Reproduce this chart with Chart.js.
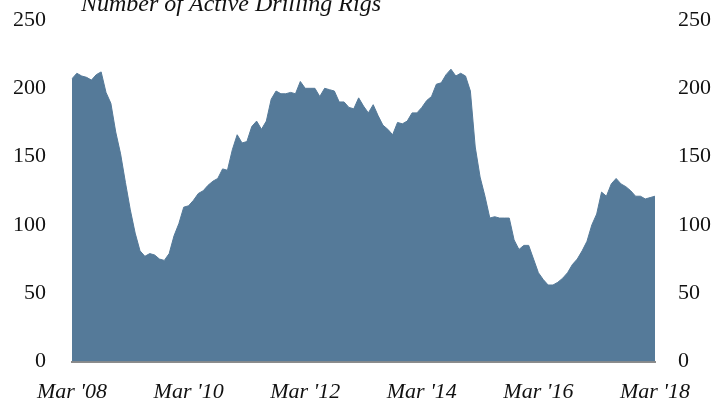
<!DOCTYPE html>
<html>
<head>
<meta charset="utf-8">
<script src="https://cdn.jsdelivr.net/npm/chart.js@4"></script>
<style>
    html, body { margin: 0; padding: 0; background: #fff; }
    #wrap { width: 718px; height: 407px; }
</style>
</head>
<body>
<div id="wrap"><canvas id="rigChart" width="718" height="407"></canvas></div>
<script>
// Monthly rig counts, Mar 2008 - Mar 2018
const rigCounts = [
    207, 211, 209, 208, 206, 210, 212, 197, 189, 168, 152, 131,
    111, 94, 81, 77, 79, 78, 75, 74, 79, 92, 101, 113,
    114, 118, 123, 125, 129, 132, 134, 141, 140, 155, 166, 160,
    161, 172, 176, 170, 176, 192, 198, 196, 196, 197, 196, 205,
    200, 200, 200, 194, 200, 199, 198, 190, 190, 186, 185, 193,
    187, 182, 188, 180, 173, 170, 166, 175, 174, 176, 182, 182,
    186, 191, 194, 203, 204, 210, 214, 209, 211, 209, 198, 157,
    135, 121, 105, 106, 105, 105, 105, 89, 82, 85, 85, 75,
    65, 60, 56, 56, 58, 61, 65, 71, 75, 81, 88, 100,
    108, 124, 121, 130, 134, 130, 128, 125, 121, 121, 119, 120,
    121
];
const xTickLabels = ["Mar '08", "Mar '10", "Mar '12", "Mar '14", "Mar '16", "Mar '18"];
const yTicks = [0, 50, 100, 150, 200, 250];
const chartTitle = 'Number of Active Drilling Rigs';

const monthNames = ['Jan', 'Feb', 'Mar', 'Apr', 'May', 'Jun', 'Jul', 'Aug', 'Sep', 'Oct', 'Nov', 'Dec'];
const labels = rigCounts.map((v, i) => {
    const m = (2 + i) % 12;
    const y = 2008 + Math.floor((2 + i) / 12);
    return monthNames[m] + ' ' + y;
});

const serif = '"Liberation Serif", "DejaVu Serif", serif';

const titlePlugin = {
    id: 'topTitle',
    afterDraw(chart) {
        const ctx = chart.ctx;
        ctx.save();
        ctx.font = 'italic 24px ' + serif;
        ctx.fillStyle = '#111';
        ctx.textAlign = 'center';
        ctx.textBaseline = 'alphabetic';
        ctx.fillText(chartTitle, 231, 10.5);
        ctx.restore();
    }
};

const yTickOpts = {
    font: { family: serif, size: 22 },
    color: '#111',
    stepSize: 50
};

// fixed widths, and no extra room for the overflowing top/bottom labels
function fitY(width) {
    return (s) => {
        s.width = width;
        s.paddingTop = 0;
        s.paddingBottom = 0;
    };
}

new Chart(document.getElementById('rigChart').getContext('2d'), {
    type: 'line',
    data: {
        labels: labels,
        datasets: [{
            data: rigCounts,
            backgroundColor: '#557A99',
            borderColor: '#557A99',
            borderWidth: 1,
            pointRadius: 0,
            tension: 0,
            fill: 'origin'
        }]
    },
    options: {
        responsive: false,
        animation: false,
        layout: { padding: { top: 20, left: 0, right: 0, bottom: 0 } },
        plugins: {
            legend: { display: false },
            tooltip: { enabled: false }
        },
        scales: {
            x: {
                grid: { display: false },
                border: { display: true, color: '#8C8C8C', width: 2 },
                ticks: {
                    autoSkip: false,
                    maxRotation: 0,
                    padding: 10,
                    font: { family: serif, size: 22, style: 'italic' },
                    color: '#111',
                    callback: (val, i) => (i % 24 === 0 ? xTickLabels[i / 24] : null)
                },
                afterFit: (s) => {
                    s.height = 45.5;
                    s.paddingLeft = 0;
                    s.paddingRight = 0;
                }
            },
            y: {
                position: 'left',
                min: yTicks[0],
                max: yTicks[yTicks.length - 1],
                grid: { display: false },
                border: { display: false },
                ticks: Object.assign({ padding: 18 }, yTickOpts),
                afterFit: fitY(72)
            },
            y2: {
                position: 'right',
                min: yTicks[0],
                max: yTicks[yTicks.length - 1],
                grid: { display: false },
                border: { display: false },
                ticks: Object.assign({ padding: 15 }, yTickOpts),
                afterFit: fitY(63)
            }
        }
    },
    plugins: [titlePlugin]
});
</script>
</body>
</html>
